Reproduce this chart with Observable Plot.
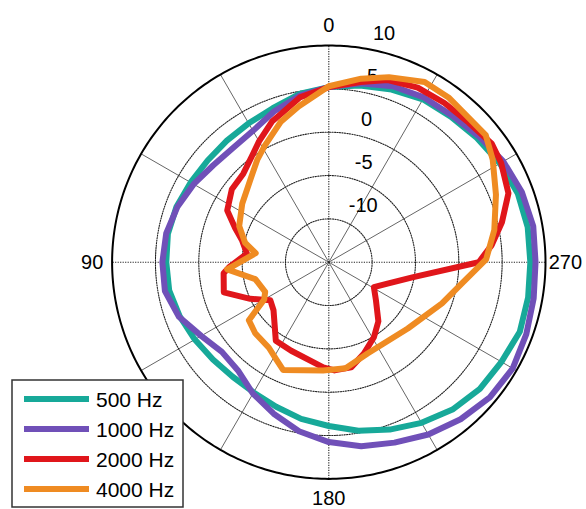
<!DOCTYPE html>
<html>
<head>
<meta charset="utf-8">
<script src="https://cdn.jsdelivr.net/npm/d3@7"></script>
<script src="https://cdn.jsdelivr.net/npm/@observablehq/plot@0.6"></script>
<style>
  html, body { margin: 0; padding: 0; background: #fff; }
  svg { display: block; }
</style>
</head>
<body>
<div id="chart"></div>
<script>
// ---- Data (angle in degrees, counter-clockwise from top; level in dB) ----
const seriesNames = ["500 Hz", "1000 Hz", "2000 Hz", "4000 Hz"];
const seriesColors = ["#17a999", "#7050b8", "#e0161b", "#ef8b22"];

const angles500 = [0,10,20,30,40,50,60,70,80,90,100,110,120,130,140,150,160,170,180,190,200,210,220,230,240,250,260,270,280,290,300,310,320,330,340,350];
const db500     = [5.2,4.7,3.9,3.5,3.3,3.25,3.4,3.7,3.85,3.75,3.7,3.3,2.85,2.45,2.25,2.35,2.75,3.35,3.9,4.75,5.55,6.4,7.2,7.75,8.0,8.45,8.35,8.25,8.3,8.2,7.8,7.3,6.9,6.7,6.2,5.7];

const angles1000 = [0,10,20,30,40,50,60,70,80,90,100,110,120,130,140,150,160,170,180,190,200,210,220,230,240,250,260,270,280,290,300,310,320,330,340,350];
const db1000     = [5.2,4.5,3.5,2.5,2.2,2.4,3.0,3.6,4.05,4.2,4.2,3.4,2.0,1.1,1.3,2.5,3.6,4.8,5.75,6.55,7.15,7.95,8.65,9.25,9.5,9.25,9.0,8.85,8.95,8.7,8.25,7.6,7.1,6.95,6.6,5.95];

const angles2000 = [0,10,17,22,30,36,44,53,63,70,76,84,93,96,106,115,123,131,146,157,177,183,192,201,211,220,231,241,250,260,270,276,283,291,300,306,315,324,333,342,350];
const db2000     = [5.2,4.3,3.1,2.5,1.1,0.1,-0.8,-1.0,-1.85,-3.5,-4.7,-5.5,-3.45,-2.8,-2.4,-5.0,-6.95,-6.55,-4.07,-3.9,-2.85,-2.5,-2.6,-3.7,-4.9,-6.1,-8.0,-9.05,-7.8,-5.1,2.3,3.9,5.5,7.2,7.95,8.25,7.8,7.7,7.6,7.1,6.1];

const angles4000 = [0,11,19,29,35,43,56,68,77,83,94,103,115,120,126,134,145,152,157,177,189,203,230,250,261,271,281,292,302,309,316,324,332,342,350];
const db4000     = [5.3,3.3,2.1,0.3,-0.6,-1.8,-2.95,-3.85,-5.1,-6.5,-3.25,-6.3,-6.9,-6.4,-3.6,-3.2,-2.95,-2.2,-1.5,-2.5,-2.6,-3.55,-3.1,-1.1,0.55,3.15,4.45,5.8,7.3,8.3,8.2,8.5,8.55,7.45,6.5];

const radialTicks = [-10, -5, 0, 5, 10];
const angleTicks = [0, 90, 180, 270];
const ringLevels = [-10, -5, 0, 5];
const rMin = -15, rMax = 10;

// ---- Polar helpers ----
const R = rMax - rMin;
const rad = a => a * Math.PI / 180;
const px = (a, v) => -(v - rMin) * Math.sin(rad(a));
const py = (a, v) => (v - rMin) * Math.cos(rad(a));

const seriesAngles = [angles500, angles1000, angles2000, angles4000];
const seriesDb = [db500, db1000, db2000, db4000];
const curves = [];
seriesNames.forEach((name, i) => {
  const a = seriesAngles[i], d = seriesDb[i];
  for (let k = 0; k <= a.length; k++) {
    const j = k % a.length;
    curves.push({series: name, x: px(a[j], d[j]), y: py(a[j], d[j])});
  }
});

const ringPts = [];
ringLevels.forEach(v => d3.range(0, 361, 2).forEach(a => ringPts.push({v, x: px(a, v), y: py(a, v)})));
const outerPts = d3.range(0, 361, 1).map(a => ({x: px(a, rMax), y: py(a, rMax)}));
const diagSpokes = [30, 60, 120, 150, 210, 240, 300, 330];
const axisSpokes = [0, 90, 180, 270];

const font = "'Liberation Sans', Arial, Helvetica, sans-serif";

const chart = Plot.plot({
  width: 586,
  height: 509,
  marginLeft: 111.6,
  marginRight: 41,
  marginTop: 45,
  marginBottom: 30.6,
  x: {domain: [-R, R], axis: null},
  y: {domain: [-R, R], axis: null},
  style: {fontFamily: font, background: "#fff", color: "#000"},
  marks: [
    Plot.link(diagSpokes, {x1: 0, y1: 0, x2: a => px(a, rMax), y2: a => py(a, rMax), stroke: "#666", strokeWidth: 1}),
    Plot.link(axisSpokes, {x1: 0, y1: 0, x2: a => px(a, rMax), y2: a => py(a, rMax), stroke: "#222", strokeWidth: 1.1, strokeDasharray: "1.2,1.3"}),
    Plot.line(ringPts, {x: "x", y: "y", z: "v", stroke: "#222", strokeWidth: 1.1, strokeDasharray: "1.2,1.3"}),
    Plot.line(outerPts, {x: "x", y: "y", stroke: "#000", strokeWidth: 2}),
    Plot.text(radialTicks, {
      x: v => px(-8, v), y: v => py(-8, v), text: v => String(v),
      textAnchor: "start", dx: 14, dy: -14, fontSize: 20, fill: "#000"
    }),
    Plot.text(angleTicks, {
      x: a => px(a, rMax + 2.3), y: a => py(a, rMax + 2.3), text: a => String(a),
      textAnchor: "middle", fontSize: 20, fill: "#000"
    }),
    Plot.line(curves, {
      x: "x", y: "y", z: "series",
      stroke: d => seriesColors[seriesNames.indexOf(d.series)],
      strokeWidth: 6, strokeLinejoin: "round"
    })
  ]
});

document.getElementById("chart").appendChild(chart);

// ---- Legend inside the plot area (bottom-left) ----
const svg = d3.select(chart);
const lg = svg.append("g").attr("font-family", font).attr("font-size", 21).attr("text-anchor", "start");
lg.append("rect").attr("x", 12).attr("y", 380).attr("width", 171).attr("height", 127)
  .attr("fill", "#fff").attr("stroke", "#333").attr("stroke-width", 1.5);
seriesNames.forEach((name, i) => {
  const yy = 399 + i * 30;
  lg.append("line").attr("x1", 24).attr("x2", 89).attr("y1", yy).attr("y2", yy)
    .attr("stroke", seriesColors[i]).attr("stroke-width", 6);
  lg.append("text").attr("x", 96).attr("y", yy).attr("dy", "0.36em")
    .attr("text-anchor", "start").attr("fill", "#000").text(name);
});
</script>
</body>
</html>
